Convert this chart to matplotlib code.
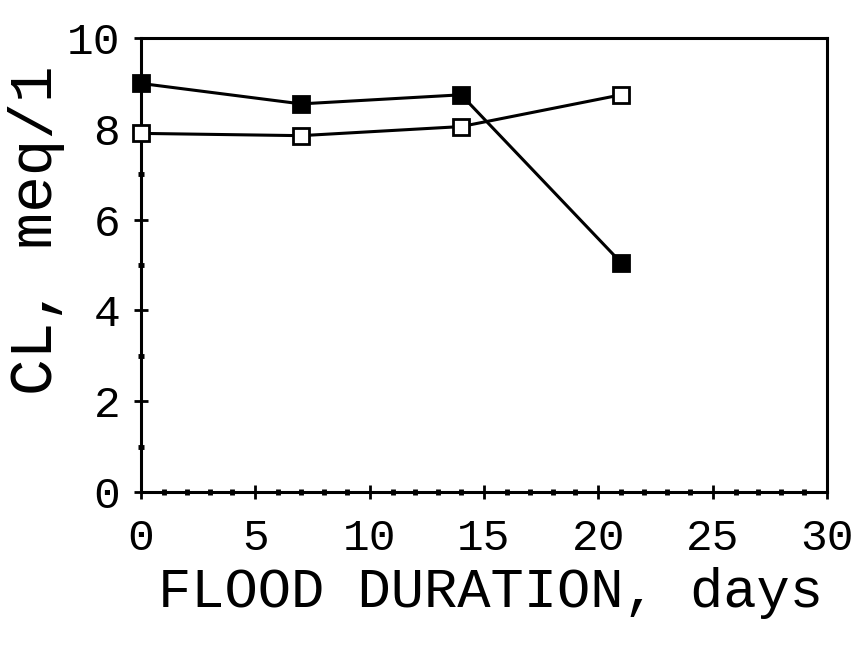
import matplotlib
matplotlib.use('Agg')
import matplotlib.pyplot as plt
from matplotlib.ticker import MultipleLocator

# flood duration (days) and chloride (meq/l)
days = [0, 7, 14, 21]
cl_filled = [9.0, 8.55, 8.75, 5.05]
cl_open = [7.9, 7.85, 8.05, 8.75]

xticks = [0, 5, 10, 15, 20, 25, 30]
yticks = [0, 2, 4, 6, 8, 10]

plt.rcParams['font.family'] = ['Liberation Mono', 'DejaVu Sans Mono']

fig = plt.figure(figsize=(8.62, 6.45), dpi=100)
ax = fig.add_axes([0.1636, 0.2372, 0.7958, 0.7038])

ax.plot(days, cl_open, '-', color='black', lw=2.2, marker='s', ms=12,
        mfc='white', mec='black', mew=2, clip_on=False, zorder=3)
ax.plot(days, cl_filled, '-', color='black', lw=2.2, marker='s', ms=12,
        mfc='black', mec='black', mew=2, clip_on=False, zorder=4)

ax.set_xlim(0, 30)
ax.set_ylim(0, 10)
ax.set_xticks(xticks)
ax.set_yticks(yticks)
ax.set_xticklabels([str(t) for t in xticks])
ax.set_yticklabels([str(t) for t in yticks])
ax.xaxis.set_minor_locator(MultipleLocator(1))
ax.yaxis.set_minor_locator(MultipleLocator(1))

for s in ax.spines.values():
    s.set_linewidth(2.2)
ax.tick_params(which='major', direction='inout', length=10, width=2,
               labelsize=32)
ax.tick_params(axis='x', which='major', pad=14)
ax.tick_params(axis='y', which='major', pad=10)
ax.tick_params(which='minor', direction='inout', length=4, width=3.5)

fig.text(0.569, 0.081, 'FLOOD DURATION, days', ha='center', va='center',
         fontsize=40)
fig.text(0.042, 0.643, 'CL, meq/1', ha='center', va='center',
         rotation=90, fontsize=44)

fig.savefig('out.png', dpi=100)
